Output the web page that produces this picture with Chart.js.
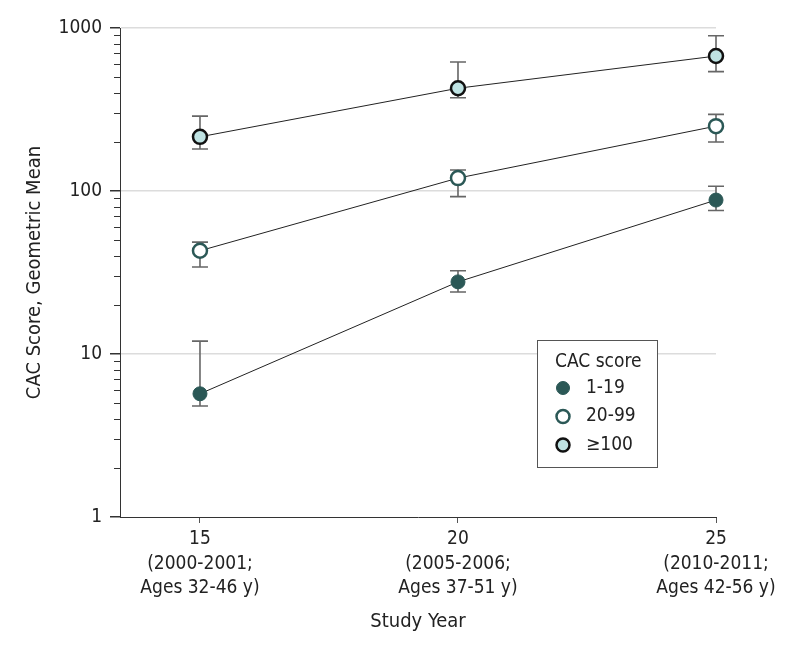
<!DOCTYPE html>
<html>
<head>
<meta charset="utf-8">
<script src="https://cdn.jsdelivr.net/npm/chart.js@4.4.1/dist/chart.umd.min.js"></script>
<style>
  html, body { margin: 0; padding: 0; background: #fff; }
  #wrap { width: 798px; height: 651px; position: relative; }
</style>
</head>
<body>
<div id="wrap"><canvas id="cacChart"></canvas></div>
<script>
// data
const studyYears = [15, 20, 25];
const yearLabels = [
    ['15', '(2000-2001;', 'Ages 32-46 y)'],
    ['20', '(2005-2006;', 'Ages 37-51 y)'],
    ['25', '(2010-2011;', 'Ages 42-56 y)']
];
const groupNames = ['1-19', '20-99', '\u2265100'];

const cac1to19 = [5.7, 27.7, 88];
const cac1to19Low = [4.8, 24.0, 76];
const cac1to19High = [12.0, 32.4, 107];

const cac20to99 = [43, 120, 250];
const cac20to99Low = [34.2, 92.3, 200];
const cac20to99High = [48.6, 134.5, 295];

const cac100 = [215, 427, 673];
const cac100Low = [181, 373, 540];
const cac100High = [288, 619, 897];

const yMajorTicks = [1, 10, 100, 1000];

const teal = '#2b5856';
const ink = '#222';
const fontFamily = '"DejaVu Sans Condensed", "DejaVu Sans", sans-serif';

let yTickValues = [];
yMajorTicks.forEach((m, i) => {
    if (i === yMajorTicks.length - 1) { yTickValues.push(m); return; }
    for (let k = 1; k < 10; k++) yTickValues.push(m * k);
});

function makeSet(label, values, bg, border, bw) {
    return {
        label: label,
        data: studyYears.map((x, i) => ({ x: x, y: values[i] })),
        borderColor: ink,
        borderWidth: 1,
        pointRadius: 7,
        pointBackgroundColor: bg,
        pointBorderColor: border,
        pointBorderWidth: bw,
        clip: false,
        tension: 0
    };
}

const errorBars = [
    [cac1to19Low, cac1to19High],
    [cac20to99Low, cac20to99High],
    [cac100Low, cac100High]
];

// whiskers behind the markers
const errorBarPlugin = {
    id: 'errorBars',
    beforeDatasetsDraw(chart) {
        const ctx = chart.ctx;
        const xs = chart.scales.x, ys = chart.scales.y;
        ctx.save();
        ctx.strokeStyle = '#666';
        ctx.lineWidth = 1.6;
        errorBars.forEach(([lo, hi]) => {
            studyYears.forEach((yr, i) => {
                const px = xs.getPixelForValue(yr);
                const top = ys.getPixelForValue(hi[i]);
                const bot = ys.getPixelForValue(lo[i]);
                ctx.beginPath();
                ctx.moveTo(px, top); ctx.lineTo(px, bot);
                ctx.moveTo(px - 8, top); ctx.lineTo(px + 8, top);
                ctx.moveTo(px - 8, bot); ctx.lineTo(px + 8, bot);
                ctx.stroke();
            });
        });
        ctx.restore();
    }
};

// short minor ticks on the log axis + boxed legend
const extrasPlugin = {
    id: 'extras',
    afterDraw(chart) {
        const ctx = chart.ctx;
        const ys = chart.scales.y;
        const left = chart.chartArea.left;
        ctx.save();
        ctx.strokeStyle = '#333';
        ctx.lineWidth = 1;
        yTickValues.forEach(v => {
            if (yMajorTicks.includes(v)) return;
            const py = Math.round(ys.getPixelForValue(v)) + 0.5;
            ctx.beginPath();
            ctx.moveTo(left - 6, py); ctx.lineTo(left, py);
            ctx.stroke();
        });

        // legend box
        const bx = 537, by = 340, bw = 120, bh = 127;
        ctx.fillStyle = '#fff';
        ctx.fillRect(bx, by, bw, bh);
        ctx.strokeStyle = '#555';
        ctx.strokeRect(bx + 0.5, by + 0.5, bw, bh);
        ctx.fillStyle = ink;
        ctx.font = '19px ' + fontFamily;
        ctx.textBaseline = 'middle';
        ctx.textAlign = 'left';
        ctx.fillText('CAC score', bx + 18, by + 22);
        chart.data.datasets.forEach((ds, i) => {
            const cy = by + 48 + i * 28.5;
            ctx.beginPath();
            ctx.arc(bx + 26, cy, 6.5, 0, Math.PI * 2);
            ctx.fillStyle = ds.pointBackgroundColor;
            ctx.fill();
            ctx.lineWidth = ds.pointBorderWidth;
            ctx.strokeStyle = ds.pointBorderColor;
            ctx.stroke();
            ctx.fillStyle = ink;
            ctx.fillText(ds.label, bx + 49, cy);
        });
        ctx.restore();
    }
};

Chart.defaults.font.family = fontFamily;
Chart.defaults.font.size = 19;
Chart.defaults.color = ink;

const cacChart = new Chart(document.getElementById('cacChart'), {
    type: 'line',
    data: {
        datasets: [
            makeSet(groupNames[0], cac1to19, teal, teal, 1),
            makeSet(groupNames[1], cac20to99, '#fff', teal, 2.5),
            makeSet(groupNames[2], cac100, '#bfe3e3', '#111', 2.5)
        ]
    },
    options: {
        responsive: true,
        maintainAspectRatio: false,
        animation: false,
        layout: { padding: { left: 0, right: 82, top: 28, bottom: 0 } },
        plugins: { legend: { display: false }, tooltip: { enabled: false } },
        scales: {
            x: {
                type: 'linear',
                min: 13.45,
                max: 25,
                afterBuildTicks: s => { s.ticks = studyYears.map(v => ({ value: v })); },
                afterFit: s => { s.height = 134; },
                ticks: {
                    autoSkip: false,
                    maxRotation: 0,
                    padding: 4,
                    font: { size: 19, lineHeight: 1.29 },
                    callback: (v, i) => yearLabels[i]
                },
                grid: { drawOnChartArea: false, tickLength: 6, tickColor: '#555' },
                border: { color: '#333', width: 1 },
                title: {
                    display: true,
                    text: 'Study Year',
                    font: { size: 20 },
                    padding: { top: 0, bottom: 17 }
                }
            },
            y: {
                type: 'logarithmic',
                min: 1,
                max: 1000,
                afterBuildTicks: s => { s.ticks = yTickValues.map(v => ({ value: v })); },
                afterFit: s => { s.width = 120; },
                ticks: {
                    autoSkip: false,
                    padding: 8,
                    callback: v => yMajorTicks.includes(v) ? String(v) : ''
                },
                grid: {
                    tickLength: 10,
                    lineWidth: 1.5,
                    color: c => (c.tick && yMajorTicks.includes(c.tick.value) && c.tick.value !== 1) ? '#dcdcdc' : 'transparent',
                    tickColor: c => (c.tick && yMajorTicks.includes(c.tick.value)) ? '#333' : 'transparent'
                },
                border: { color: '#333', width: 1 },
                title: {
                    display: true,
                    text: 'CAC Score, Geometric Mean',
                    font: { size: 20 },
                    padding: { top: 23, bottom: 0 }
                }
            }
        }
    },
    plugins: [errorBarPlugin, extrasPlugin]
});
</script>
</body>
</html>
